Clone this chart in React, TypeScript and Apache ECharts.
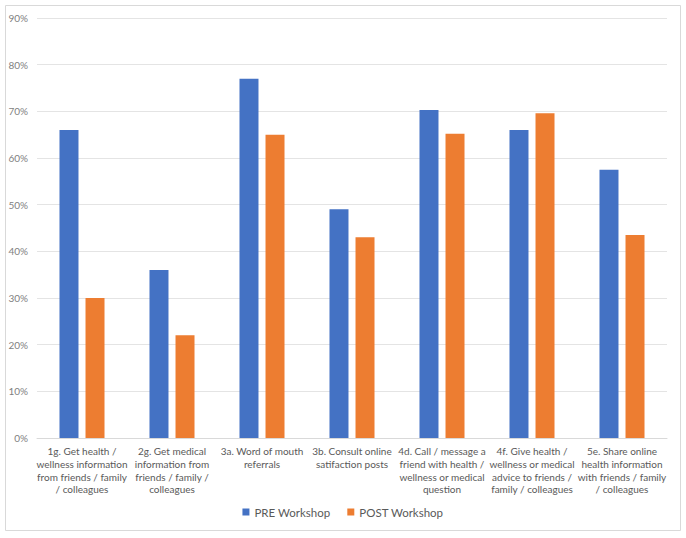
import React, { useEffect, useRef } from "react";
import * as echarts from "echarts";

const categories = [
  "1g. Get health /\nwellness information\nfrom friends / family\n/ colleagues",
  "2g. Get medical\ninformation from\nfriends / family /\ncolleagues",
  "3a. Word of mouth\nreferrals",
  "3b. Consult online\nsatifaction posts",
  "4d. Call / message a\nfriend with health /\nwellness or medical\nquestion",
  "4f. Give health /\nwellness or medical\nadvice to friends /\nfamily / colleagues",
  "5e. Share online\nhealth information\nwith friends / family\n/ colleagues",
];
const preValues = [0.66, 0.36, 0.77, 0.49, 0.703, 0.66, 0.575];
const postValues = [0.30, 0.22, 0.65, 0.43, 0.652, 0.696, 0.435];
const seriesNames = ["PRE Workshop", "POST Workshop"];

export default function App() {
  const ref = useRef<HTMLDivElement>(null);
  useEffect(() => {
    const chart = echarts.init(ref.current!, undefined, { renderer: "svg" });
    const font = "Lato, 'Liberation Sans', sans-serif";
    chart.setOption({
      animation: false,
      backgroundColor: "#ffffff",
      textStyle: { fontFamily: font },
      graphic: [
        {
          type: "rect",
          shape: { x: 5.5, y: 5.5, width: 675, height: 525 },
          style: { fill: "none", stroke: "#d9d9d9", lineWidth: 1 },
          silent: true,
        },
      ],
      grid: { left: 37, right: 19, top: 18, bottom: 100 },
      legend: {
        data: seriesNames,
        bottom: 15,
        left: "center",
        itemWidth: 7,
        itemHeight: 7,
        itemGap: 17,
        icon: "rect",
        textStyle: { color: "#595959", fontSize: 11.5, fontFamily: font },
      },
      xAxis: {
        type: "category",
        data: categories,
        axisLine: { lineStyle: { color: "#d9d9d9" } },
        axisTick: { show: false },
        axisLabel: {
          interval: 0,
          color: "#595959",
          fontSize: 10,
          lineHeight: 12.7,
          margin: 7,
          fontFamily: font,
        },
      },
      yAxis: {
        type: "value",
        min: 0,
        max: 0.9,
        interval: 0.1,
        axisLine: { show: false },
        axisTick: { show: false },
        splitLine: { lineStyle: { color: "#e4e4e4" } },
        axisLabel: {
          color: "#7f7f7f",
          fontSize: 10,
          margin: 9,
          fontFamily: font,
          formatter: (v: number) => Math.round(v * 100) + "%",
        },
      },
      series: [
        {
          name: seriesNames[0],
          type: "bar",
          data: preValues,
          barWidth: 19,
          barGap: "37%",
          itemStyle: { color: "#4472C4" },
        },
        {
          name: seriesNames[1],
          type: "bar",
          data: postValues,
          barWidth: 19,
          barGap: "37%",
          itemStyle: { color: "#ED7D31" },
        },
      ],
    });
    return () => chart.dispose();
  }, []);
  return (
    <div
      ref={ref}
      style={{ position: "absolute", left: 0, top: 0, width: 686, height: 538 }}
    />
  );
}
